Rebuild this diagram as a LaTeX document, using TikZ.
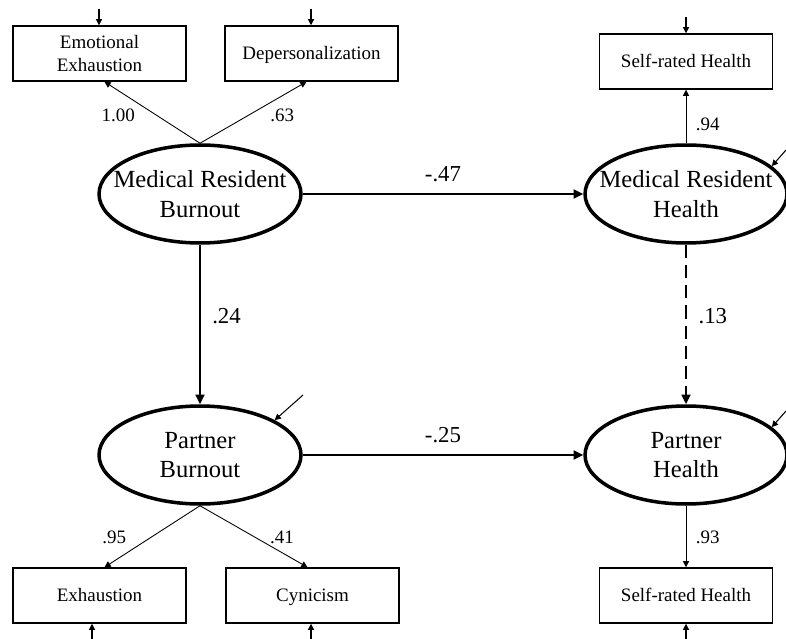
\documentclass[tikz,border=0pt]{standalone}
\usepackage{fontspec}
\setmainfont{Liberation Serif}
\usetikzlibrary{arrows.meta,shapes.geometric}
\begin{document}
\begin{tikzpicture}[x=0.02cm,y=-0.02cm,
    obs/.style={draw,line width=0.85pt,minimum width=3.46cm,minimum height=1.1cm,inner sep=0pt,align=center,font=\fontsize{10.8}{12.6}\selectfont},
    oneline/.style={text height=7.2pt,text depth=0pt},
    lat/.style={draw,ellipse,line width=2pt,minimum width=4.04cm,minimum height=1.96cm,inner sep=0pt},
    lattext/.style={align=center,font=\fontsize{14}{17}\selectfont},
    effect/.style={line width=1.3pt,-{Triangle[length=5.5pt,width=5pt]}},
    load/.style={line width=0.5pt,-{Triangle[length=3.5pt,width=3.5pt]}},
    err/.style={line width=0.6pt,-{Triangle[length=3.5pt,width=3.5pt]}},
    coeff/.style={font=\fontsize{13}{15}\selectfont},
    coeffsm/.style={font=\fontsize{10.8}{12}\selectfont}]
    \useasboundingbox (0,0) rectangle (786,638);
    \node[obs] (EE) at (99.5,53.5) {Emotional\\Exhaustion};
    \node[obs,oneline] (DP) at (311.5,53.5) {Depersonalization};
    \node[obs,oneline] (SRT) at (686,61.5) {Self-rated Health};
    \node[obs,oneline] (EX) at (99.5,595.5) {Exhaustion};
    \node[obs,oneline] (CY) at (312.5,595.5) {Cynicism};
    \node[obs,oneline] (SRB) at (686,595.5) {Self-rated Health};
    \node[lat, label={[lattext]center:{Medical Resident\\Burnout}}] (MRB) at (200,194) {};
    \node[lat, label={[lattext]center:{Medical Resident\\Health}}] (MRH) at (686,194) {};
    \node[lat, label={[lattext]center:{Partner\\Burnout}}] (PB) at (200,455) {};
    \node[lat, label={[lattext]center:{Partner\\Health}}] (PH) at (686,455) {};
    \draw[effect] (MRB) -- node[coeff,above=3pt] {-.47} (MRH);
    \draw[effect] (PB) -- node[coeff,above=3pt] {-.25} (PH);
    \draw[effect] (MRB) -- node[coeff,pos=0.45,right=3pt] {.24} (PB);
    \draw[effect,line width=1.6pt,dash pattern=on 7.5pt off 4pt] (MRH) -- node[coeff,pos=0.45,right=3pt] {.13} (PH);
    \draw[load] (MRB.north) -- node[coeffsm,pos=0.46,left=0.3cm] {1.00} ([xshift=0.1cm]EE.south);
    \draw[load] (MRB.north) -- node[coeffsm,pos=0.46,right=0.3cm] {.63} ([xshift=-0.1cm]DP.south);
    \draw[load] (MRH.north) -- node[coeffsm,pos=0.35,right=2pt] {.94} (SRT.south);
    \draw[load] (PB.south) -- node[coeffsm,pos=0.52,left=0.36cm] {.95} ([xshift=0.1cm]EX.north);
    \draw[load] (PB.south) -- node[coeffsm,pos=0.52,right=0.16cm] {.41} ([xshift=-0.1cm]CY.north);
    \draw[load] (PH.south) -- node[coeffsm,pos=0.52,right=2pt] {.93} (SRB.north);
    \coordinate (eEE) at (99,9);
    \coordinate (eDP) at (311,9);
    \coordinate (eSRT) at (686,17);
    \coordinate (eEX) at (92,640);
    \coordinate (eCY) at (311,640);
    \coordinate (eSRB) at (686,640);
    \coordinate (eMRH) at (786,150);
    \coordinate (ePH) at (786,411);
    \coordinate (ePB) at (303,395);
    \draw[err] (eEE) -- (eEE |- EE.north);
    \draw[err] (eDP) -- (eDP |- DP.north);
    \draw[err] (eSRT) -- (eSRT |- SRT.north);
    \draw[err] (eEX) -- (eEX |- EX.south);
    \draw[err] (eCY) -- (eCY |- CY.south);
    \draw[err] (eSRB) -- (eSRB |- SRB.south);
    \draw[err] (eMRH) -- (MRH.18);
    \draw[err] (ePH) -- (PH.18);
    \draw[err] (ePB) -- (PB.25);
\end{tikzpicture}
\end{document}
